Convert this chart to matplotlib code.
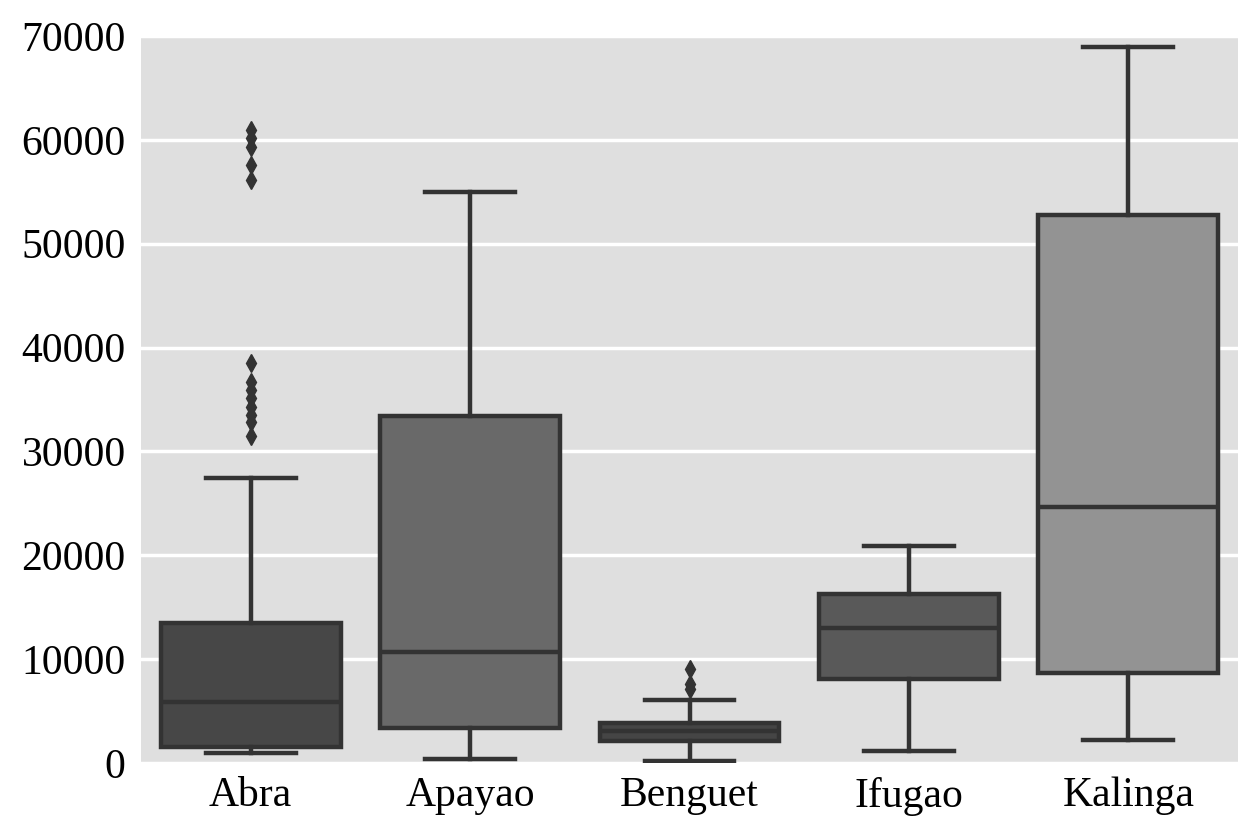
import matplotlib
matplotlib.use('Agg')
import matplotlib.pyplot as plt

# provinces and box statistics
provinces = ['Abra', 'Apayao', 'Benguet', 'Ifugao', 'Kalinga']
whislo = [960, 390, 190, 1160, 2220]
q1 = [1540, 3380, 2120, 8100, 8680]
med = [5880, 10700, 3090, 13020, 24690]
q3 = [13500, 33460, 3890, 16300, 52750]
whishi = [27480, 54970, 6040, 20930, 68950]
fliers = [
    [31530, 32810, 33500, 34260, 35100, 35870, 36670, 38480,
     56120, 57570, 59330, 60200, 60950],
    [],
    [7130, 7600, 9060],
    [],
    [],
]
fills = ['#474747', '#696969', '#454545', '#595959', '#939393']

plt.rcParams['font.family'] = ['Liberation Serif', 'DejaVu Serif']

fig = plt.figure(figsize=(12.38, 8.19), dpi=100)
ax = fig.add_axes([0.1139, 0.0684, 0.8861, 0.8876])
ax.set_facecolor('#dfdfdf')

stats = []
for i, name in enumerate(provinces):
    stats.append({'label': name, 'whislo': whislo[i], 'q1': q1[i], 'med': med[i],
                  'q3': q3[i], 'whishi': whishi[i], 'fliers': fliers[i]})

edge = '#333333'
lw = 3.2
bp = ax.bxp(stats, positions=range(len(provinces)), widths=0.82, patch_artist=True,
            boxprops=dict(edgecolor=edge, linewidth=lw),
            medianprops=dict(color=edge, linewidth=lw),
            whiskerprops=dict(color=edge, linewidth=lw),
            capprops=dict(color=edge, linewidth=lw),
            flierprops=dict(marker='d', markersize=9, markerfacecolor=edge,
                            markeredgecolor=edge))
for patch, c in zip(bp['boxes'], fills):
    patch.set_facecolor(c)

ax.set_xlim(-0.5, 4.5)
ax.set_ylim(0, 70000)
ax.set_yticks(range(0, 70001, 10000))
ax.yaxis.grid(True, color='white', linewidth=2.5)
ax.set_axisbelow(True)
for s in ax.spines.values():
    s.set_visible(False)
ax.tick_params(axis='both', length=0, labelsize=30)
ax.tick_params(axis='y', pad=11)
ax.tick_params(axis='x', pad=10)
for lbl in ax.get_yticklabels():
    lbl.set_va('center_baseline')

fig.savefig('out.png', dpi=100)
